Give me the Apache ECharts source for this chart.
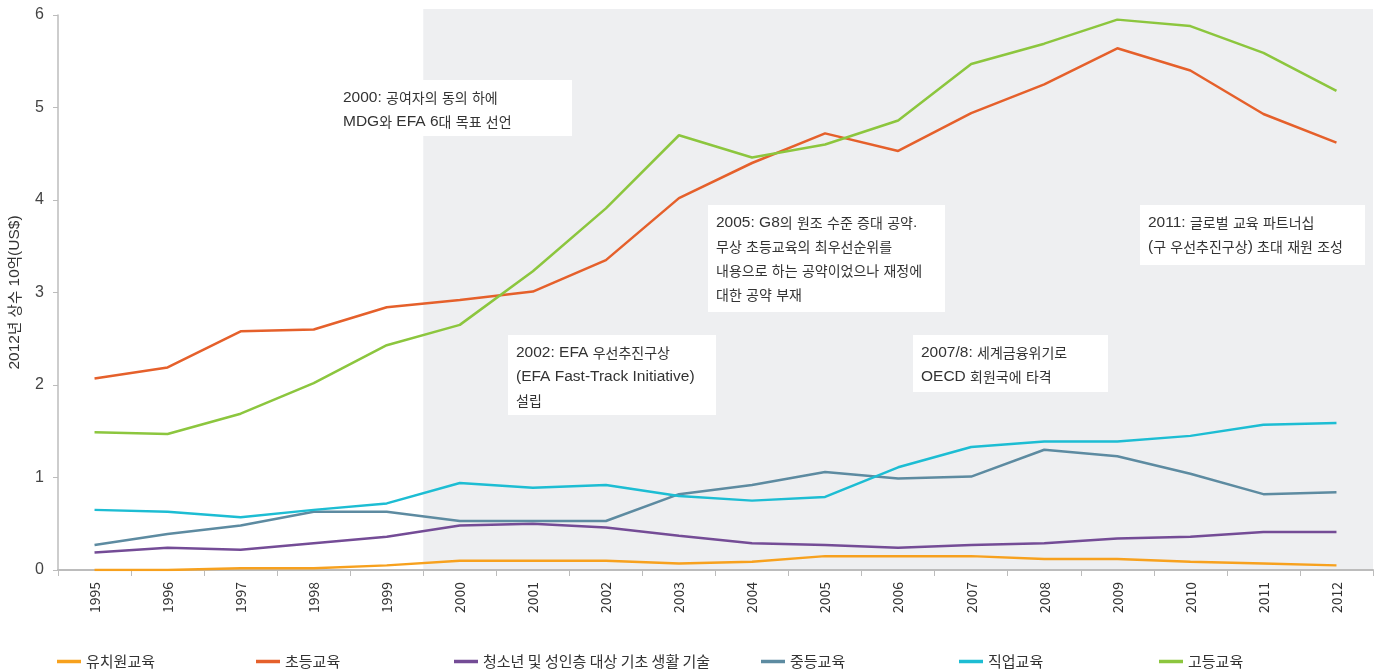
<!DOCTYPE html>
<html>
<head>
<meta charset="utf-8">
<script src="https://cdn.jsdelivr.net/npm/echarts@6/dist/echarts.min.js"></script>
<style>
html,body{margin:0;padding:0;background:#fff;}
#main{width:1378px;height:671px;}
</style>
</head>
<body>
<div id="main"></div>
<script>
const years = ['1995','1996','1997','1998','1999','2000','2001','2002','2003','2004','2005','2006','2007','2008','2009','2010','2011','2012'];
const yTicks = [0,1,2,3,4,5,6];
const preprimary = [0.00,0.00,0.02,0.02,0.05,0.10,0.10,0.10,0.07,0.09,0.15,0.15,0.15,0.12,0.12,0.09,0.07,0.05];
const primary    = [2.07,2.19,2.58,2.60,2.84,2.92,3.01,3.35,4.02,4.40,4.72,4.53,4.94,5.25,5.64,5.40,4.93,4.62];
const basicSkills= [0.19,0.24,0.22,0.29,0.36,0.48,0.50,0.46,0.37,0.29,0.27,0.24,0.27,0.29,0.34,0.36,0.41,0.41];
const secondary  = [0.27,0.39,0.48,0.63,0.63,0.53,0.53,0.53,0.82,0.92,1.06,0.99,1.01,1.30,1.23,1.04,0.82,0.84];
const vocational = [0.65,0.63,0.57,0.65,0.72,0.94,0.89,0.92,0.80,0.75,0.79,1.11,1.33,1.39,1.39,1.45,1.57,1.59];
const tertiary   = [1.49,1.47,1.69,2.02,2.43,2.65,3.23,3.91,4.70,4.46,4.60,4.86,5.47,5.69,5.95,5.88,5.59,5.18];
const seriesNames = ['유치원교육','초등교육','청소년 및 성인층 대상 기초 생활 기술','중등교육','직업교육','고등교육'];
const seriesData = [preprimary, primary, basicSkills, secondary, vocational, tertiary];
const colors = ['#F7A11E','#E5602B','#744C96','#5D8BA1','#1DBDD3','#8CC63E'];
const yAxisName = '2012년 상수 10억(US$)';
const annotations = [
  ['2000: 공여자의 동의 하에','MDG와 EFA 6대 목표 선언'],
  ['2002: EFA 우선추진구상','(EFA Fast-Track Initiative)','설립'],
  ['2005: G8의 원조 수준 증대 공약.','무상 초등교육의 최우선순위를','내용으로 하는 공약이었으나 재정에','대한 공약 부재'],
  ['2007/8: 세계금융위기로','OECD 회원국에 타격'],
  ['2011: 글로벌 교육 파트너십','(구 우선추진구상) 초대 재원 조성']
];
const shadeStart = '2000';

const KFONT = '"Noto Sans CJK KR", sans-serif';
const LFONT = '"Liberation Sans", "Noto Sans CJK KR", sans-serif';
const richify = s => s.replace(/([\uAC00-\uD7A3\u3131-\u318E]+)/g, '{h|$1}');

const chart = echarts.init(document.getElementById('main'));
const legendLefts = [57, 256, 454, 761, 959, 1159];

const option = {
  animation: false,
  textStyle: {fontFamily: LFONT},
  grid: {left: 58, right: 5, top: 15, bottom: 101, containLabel: false, outerBoundsMode: 'none'},
  legend: seriesNames.map((n, i) => ({
    data: [n], left: legendLefts[i], top: 654, padding: 0, icon: 'rect', itemWidth: 24, itemHeight: 3.5,
    textStyle: {fontSize: 15, color: '#333', fontFamily: KFONT}, selectedMode: false
  })),
  xAxis: {
    type: 'category', data: years, boundaryGap: true,
    axisLine: {lineStyle: {color: '#bcbcbc', width: 2}},
    axisTick: {show: true, length: 6, lineStyle: {color: '#bcbcbc'}},
    axisLabel: {rotate: 90, fontSize: 14, color: '#333', margin: 12, fontFamily: KFONT}
  },
  yAxis: {
    type: 'value', min: 0, max: 6, interval: 1,
    name: richify(yAxisName), nameLocation: 'middle', nameGap: 36,
    nameTextStyle: {fontSize: 15.5, color: '#333', fontFamily: LFONT,
      rich: {h: {fontSize: 14.5, fontFamily: KFONT, color: '#333'}}},
    axisLine: {show: true, lineStyle: {color: '#bcbcbc', width: 1.5}},
    axisTick: {show: true, length: 5, lineStyle: {color: '#bcbcbc'}},
    axisLabel: {fontSize: 16, color: '#444', margin: 14, fontFamily: LFONT, formatter: v => yTicks.includes(v) ? String(v) : ''},
    splitLine: {show: false}
  },
  series: seriesNames.map((n, i) => ({
    name: n, type: 'line', data: seriesData[i], symbol: 'none',
    lineStyle: {color: colors[i], width: 2.5}, itemStyle: {color: colors[i]}, z: 5
  }))
};
chart.setOption(option);

// shaded period and annotation boxes
const x0 = chart.convertToPixel({xAxisIndex: 0}, shadeStart);
const x1 = chart.convertToPixel({xAxisIndex: 0}, years[years.indexOf(shadeStart) + 1]);
const band = x1 - x0;
const yTop = chart.convertToPixel({yAxisIndex: 0}, 6) - 6;
const yBot = chart.convertToPixel({yAxisIndex: 0}, 0) - 1;
const xRight = chart.convertToPixel({xAxisIndex: 0}, years[years.length - 1]) + band / 2;

const boxes = [
  {x: 335, y: 80, w: 237, h: 56},
  {x: 508, y: 335, w: 208, h: 80},
  {x: 708, y: 205, w: 237, h: 107},
  {x: 913, y: 335, w: 195, h: 57},
  {x: 1140, y: 205, w: 225, h: 60}
];
const graphics = [{
  type: 'rect', z: 0, shape: {x: x0 - band / 2, y: yTop, width: xRight - (x0 - band / 2), height: yBot - yTop},
  style: {fill: '#EEEFF1'}, silent: true
}];
boxes.forEach((b, i) => {
  graphics.push({type: 'rect', z: 1, shape: {x: b.x, y: b.y, width: b.w, height: b.h}, style: {fill: '#fff'}, silent: true});
  graphics.push({type: 'text', z: 2, x: b.x + 8, y: b.y + 6, style: {
    text: annotations[i].map(richify).join('\n'), fontSize: 15.5, fontFamily: LFONT, lineHeight: 24, fill: '#333',
    rich: {h: {fontSize: 14, fontFamily: KFONT, fill: '#333', lineHeight: 24}}
  }, silent: true});
});
chart.setOption({graphic: graphics});
</script>
</body>
</html>
